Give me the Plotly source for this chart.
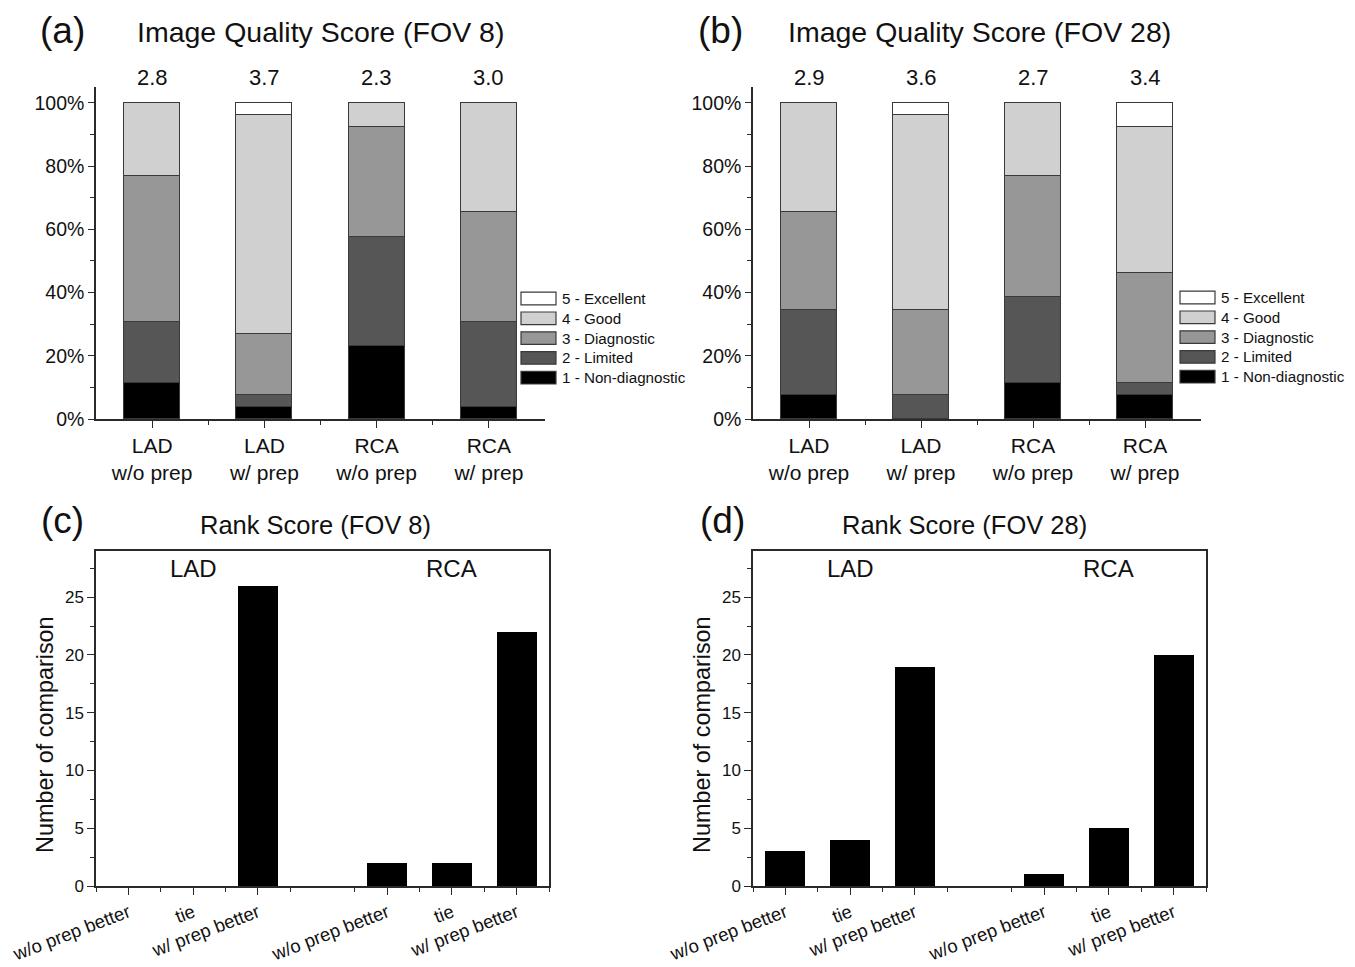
import plotly.graph_objects as go

OFF = 8  # page body margin of the html page
W, H = 1355 - OFF, 967 - OFF
FONT = "Arial, Liberation Sans, sans-serif"

# ---------------- data ----------------
quality_categories = ["LAD<br>w/o prep", "LAD<br>w/ prep", "RCA<br>w/o prep", "RCA<br>w/ prep"]
level_names = ["1 - Non-diagnostic", "2 - Limited", "3 - Diagnostic", "4 - Good", "5 - Excellent"]
level_colors = ["#000000", "#565656", "#979797", "#d0d0d0", "#ffffff"]
pct_ticks = [0, 20, 40, 60, 80, 100]
pct_labels = ["0%", "20%", "40%", "60%", "80%", "100%"]

# FOV 8 (percent of cases per score level)
fov8_level1 = [11.54, 3.85, 23.08, 3.85]
fov8_level2 = [19.23, 3.85, 34.62, 26.92]
fov8_level3 = [46.15, 19.23, 34.62, 34.62]
fov8_level4 = [23.08, 69.23, 7.69, 34.62]
fov8_level5 = [0.0, 3.85, 0.0, 0.0]
fov8_means = ["2.8", "3.7", "2.3", "3.0"]

# FOV 28
fov28_level1 = [7.69, 0.0, 11.54, 7.69]
fov28_level2 = [26.92, 7.69, 26.92, 3.85]
fov28_level3 = [30.77, 26.92, 38.46, 34.62]
fov28_level4 = [34.62, 61.54, 23.08, 46.15]
fov28_level5 = [0.0, 3.85, 0.0, 7.69]
fov28_means = ["2.9", "3.6", "2.7", "3.4"]

# Rank score
rank_labels = ["w/o prep better", "tie", "w/ prep better"]
lad_slots = [1, 2, 3]
rca_slots = [5, 6, 7]
fov8_rank_lad = [0, 0, 26]
fov8_rank_rca = [2, 2, 22]
fov28_rank_lad = [3, 4, 19]
fov28_rank_rca = [1, 5, 20]

# ---------------- layout helpers (page pixels -> paper fractions) ----------------
def px(x):
    return (x - OFF) / W

def py(y):
    return 1 - (y - OFF) / H

def dx(x0, x1):
    return [px(x0), px(x1)]

def dy(y_top, y_bot):
    return [py(y_bot), py(y_top)]

AXC = "#2a2a2a"

fig = go.Figure()

top_panels = [
    ("x", "y", [fov8_level1, fov8_level2, fov8_level3, fov8_level4, fov8_level5]),
    ("x2", "y2", [fov28_level1, fov28_level2, fov28_level3, fov28_level4, fov28_level5]),
]
cat_pos = list(range(len(quality_categories)))
for xa, ya, levels in top_panels:
    for name, color, vals in zip(level_names, level_colors, levels):
        fig.add_trace(go.Bar(
            x=cat_pos, y=vals, name=name, xaxis=xa, yaxis=ya, width=0.5,
            marker=dict(color=color, line=dict(color="#3a3a3a", width=1.3)),
            showlegend=False,
        ))

bottom_panels = [
    ("x3", "y3", fov8_rank_lad, fov8_rank_rca),
    ("x4", "y4", fov28_rank_lad, fov28_rank_rca),
]
for xa, ya, lad, rca in bottom_panels:
    fig.add_trace(go.Bar(x=lad_slots + rca_slots, y=lad + rca, xaxis=xa, yaxis=ya, width=0.62,
                         marker=dict(color="#000000", line=dict(width=0)), showlegend=False))

top_x = dict(
    range=[-0.5, 3.5], tickvals=cat_pos, ticktext=quality_categories, automargin=False,
    showline=True, linecolor=AXC, linewidth=1.5, ticks="outside", ticklen=7, tickwidth=1.3,
    tickcolor=AXC, showgrid=False, zeroline=False,
    tickfont=dict(size=21, color="#111", family=FONT),
    minor=dict(tickvals=[0.5, 1.5, 2.5], ticks="outside", ticklen=4, tickcolor=AXC, tickwidth=1.3),
)
top_y = dict(
    range=[0, 105], tickvals=pct_ticks, ticktext=pct_labels, automargin=False,
    showline=True, linecolor=AXC, linewidth=1.5, ticks="outside", ticklen=6, tickwidth=1.3,
    tickcolor=AXC, showgrid=False, zeroline=False,
    tickfont=dict(size=19.5, color="#111", family=FONT),
    minor=dict(tickvals=[10, 30, 50, 70, 90], ticks="outside", ticklen=4, tickcolor=AXC, tickwidth=1.3),
)
bot_x = dict(
    range=[0.5, 7.5], tickvals=lad_slots + rca_slots, ticktext=rank_labels + rank_labels,
    tickangle=-21, showline=True, mirror=True, linecolor=AXC, linewidth=1.5, automargin=False,
    ticks="outside", ticklen=7, tickwidth=1.3, tickcolor=AXC, showgrid=False, zeroline=False,
    tickfont=dict(size=18.5, color="#111", family=FONT),
    minor=dict(tickvals=[0.5, 1.5, 2.5, 3.5, 4.5, 5.5, 6.5, 7.5], ticks="outside", ticklen=4,
               tickcolor=AXC, tickwidth=1.3),
)
bot_y = dict(
    range=[0, 29], tickvals=[0, 5, 10, 15, 20, 25], automargin=False,
    showline=True, mirror=True, linecolor=AXC, linewidth=1.5,
    ticks="outside", ticklen=7, tickwidth=1.3, tickcolor=AXC, showgrid=False, zeroline=False,
    tickfont=dict(size=17, color="#111", family=FONT),
    minor=dict(tickvals=[2.5, 7.5, 12.5, 17.5, 22.5, 27.5], ticks="outside", ticklen=4,
               tickcolor=AXC, tickwidth=1.3),
)

fig.update_layout(
    width=W, height=H, margin=dict(l=0, r=0, t=0, b=0, autoexpand=False),
    paper_bgcolor="white", plot_bgcolor="white",
    barmode="stack", bargap=0, showlegend=False,
    font=dict(family=FONT, color="#111"),
    xaxis=dict(domain=dx(96, 545), anchor="y", **top_x),
    yaxis=dict(domain=dy(87, 419), anchor="x", **top_y),
    xaxis2=dict(domain=dx(753, 1201), anchor="y2", **top_x),
    yaxis2=dict(domain=dy(87, 419), anchor="x2", **top_y),
    xaxis3=dict(domain=dx(96, 549), anchor="y3", **bot_x),
    yaxis3=dict(domain=dy(551, 886), anchor="x3", **bot_y),
    xaxis4=dict(domain=dx(753, 1206), anchor="y4", **bot_x),
    yaxis4=dict(domain=dy(551, 886), anchor="x4", **bot_y),
)

ann = []
def paper_text(text, x, y, size, xanchor="center", angle=0):
    ann.append(dict(text=text, x=px(x), y=py(y), xref="paper", yref="paper",
                    xanchor=xanchor, yanchor="middle", showarrow=False, textangle=angle,
                    font=dict(size=size, color="#111", family=FONT)))

# panel letters and titles
paper_text("(a)", 62, 31, 37)
paper_text("(b)", 720, 31, 37)
paper_text("(c)", 62, 520, 37)
paper_text("(d)", 722, 520, 37)
paper_text("Image Quality Score (FOV 8)", 320, 32, 28.5)
paper_text("Image Quality Score (FOV 28)", 979, 32, 28.5)
paper_text("Rank Score (FOV 8)", 315, 525, 25.5)
paper_text("Rank Score (FOV 28)", 964, 525, 25.5)
# y-axis titles of the rank panels
paper_text("Number of comparison", 45, 735, 23.4, angle=-90)
paper_text("Number of comparison", 702, 735, 23.4, angle=-90)

# mean scores above bars
for xa, means in [("x", fov8_means), ("x2", fov28_means)]:
    for p, m in zip(cat_pos, means):
        ann.append(dict(text=m, x=p, y=py(77), xref=xa, yref="paper", showarrow=False,
                        xanchor="center", yanchor="middle",
                        font=dict(size=22, color="#111", family=FONT)))

# LAD / RCA group labels
for xa, ya in [("x3", "y3"), ("x4", "y4")]:
    ann.append(dict(text="LAD", x=lad_slots[1], y=27.5, xref=xa, yref=ya, showarrow=False,
                    font=dict(size=24, color="#111", family=FONT)))
    ann.append(dict(text="RCA", x=rca_slots[1], y=27.5, xref=xa, yref=ya, showarrow=False,
                    font=dict(size=24, color="#111", family=FONT)))

# manual legends
shapes = []
for lx, ly0 in [(521, 298.5), (1180, 297.5)]:
    for i, (name, color) in enumerate(zip(level_names[::-1], level_colors[::-1])):
        yc = ly0 + i * 19.8
        shapes.append(dict(type="rect", xref="paper", yref="paper",
                           x0=px(lx), x1=px(lx + 35),
                           y0=py(yc + 6.3), y1=py(yc - 6.3),
                           fillcolor=color, line=dict(color="#3a3a3a", width=1.2)))
        paper_text(name, lx + 39, yc, 15.2, xanchor="left")

fig.update_layout(annotations=ann, shapes=shapes)
fig.write_html("out.html")
